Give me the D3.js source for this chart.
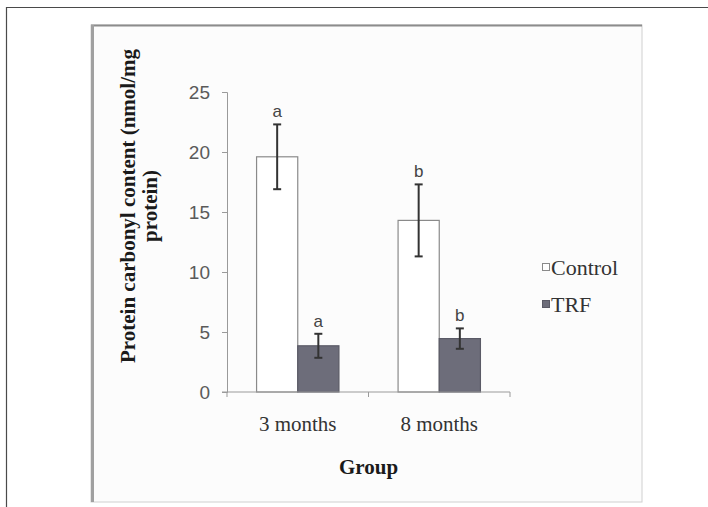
<!DOCTYPE html>
<html>
<head>
<meta charset="utf-8">
<script src="https://cdn.jsdelivr.net/npm/d3@7"></script>
<style>
  html, body { margin: 0; padding: 0; background: #fff; }
  svg { display: block; }
  .serif { font-family: "Liberation Serif", "Times New Roman", "DejaVu Serif", serif; }
  .sans { font-family: "Liberation Sans", Arial, sans-serif; }
</style>
</head>
<body>
<div id="chart"></div>
<script>
const groups = ["3 months", "8 months"];
const series = ["Control", "TRF"];
const controlMeans = [19.6, 14.3];
const controlErrors = [2.7, 3.0];
const trfMeans = [3.85, 4.45];
const trfErrors = [1.0, 0.85];
const controlLetters = ["a", "b"];
const trfLetters = ["a", "b"];
const yTicks = [0, 5, 10, 15, 20, 25];

const width = 708;
const height = 507;
const plot = { left: 227, right: 510, top: 92, bottom: 392 };

const rows = groups.flatMap((group, i) => [
  { group, series: "Control", mean: controlMeans[i], err: controlErrors[i], letter: controlLetters[i] },
  { group, series: "TRF", mean: trfMeans[i], err: trfErrors[i], letter: trfLetters[i] },
]);

const svg = d3.select("#chart").append("svg")
  .attr("width", width)
  .attr("height", height);

// outer frame (page border)
svg.append("line").attr("x1", 6).attr("x2", width).attr("y1", 7.5).attr("y2", 7.5)
  .attr("stroke", "#4a4a4a").attr("stroke-width", 1.2);
svg.append("line").attr("x1", 6.5).attr("x2", 6.5).attr("y1", 7).attr("y2", height)
  .attr("stroke", "#4a4a4a").attr("stroke-width", 1.2);

// chart panel
svg.append("rect").attr("x", 91).attr("y", 25).attr("width", 551).attr("height", 477)
  .attr("fill", "#fcfcfc").attr("stroke", "#d0d0d0").attr("stroke-width", 1);
svg.append("line").attr("x1", 91).attr("x2", 642).attr("y1", 25.5).attr("y2", 25.5)
  .attr("stroke", "#8c8c8c").attr("stroke-width", 2);
svg.append("line").attr("x1", 92.5).attr("x2", 92.5).attr("y1", 25).attr("y2", 502)
  .attr("stroke", "#a0a0a0").attr("stroke-width", 3);

const x0 = d3.scaleBand()
  .domain(groups)
  .range([plot.left, plot.right])
  .paddingInner(0.418)
  .paddingOuter(0.209);

const x1 = d3.scaleBand()
  .domain(series)
  .range([0, x0.bandwidth()]);

const y = d3.scaleLinear()
  .domain([0, 25])
  .range([plot.bottom, plot.top]);

const fills = { Control: "#ffffff", TRF: "#6d6d7a" };
const strokes = { Control: "#8a8a8a", TRF: "#5a5a66" };

// y axis
const yAxis = svg.append("g")
  .attr("transform", `translate(${plot.left},0)`)
  .call(d3.axisLeft(y).tickValues(yTicks).tickSize(5).tickPadding(12));
yAxis.attr("font-family", null).attr("font-size", null);
yAxis.select(".domain").attr("stroke", "#9a9a9a");
yAxis.selectAll(".tick line").attr("stroke", "#9a9a9a");
yAxis.selectAll(".tick text")
  .attr("class", "sans")
  .attr("fill", "#5a5a5a")
  .style("font-size", "19px");

// bars
svg.append("g").selectAll("rect")
  .data(rows)
  .join("rect")
  .attr("x", (d) => x0(d.group) + x1(d.series))
  .attr("y", (d) => y(d.mean))
  .attr("width", x1.bandwidth())
  .attr("height", (d) => y(0) - y(d.mean))
  .attr("fill", (d) => fills[d.series])
  .attr("stroke", (d) => strokes[d.series])
  .attr("stroke-width", 1.2);

// x axis (Excel style, ticks between categories)
const xAxis = svg.append("g").attr("transform", `translate(0,${plot.bottom})`);
xAxis.append("line")
  .attr("x1", plot.left - 5).attr("x2", plot.right)
  .attr("stroke", "#9a9a9a");
const step = x0.step();
const dividers = [plot.left, plot.left + step, plot.right];
xAxis.selectAll(".div-tick")
  .data(dividers)
  .join("line")
  .attr("class", "div-tick")
  .attr("x1", (d) => d).attr("x2", (d) => d)
  .attr("y1", 0).attr("y2", 5)
  .attr("stroke", "#9a9a9a");
xAxis.selectAll(".cat-label")
  .data(groups)
  .join("text")
  .attr("class", "serif")
  .attr("x", (d) => x0(d) + x0.bandwidth() / 2)
  .attr("y", 39)
  .attr("text-anchor", "middle")
  .attr("fill", "#333")
  .style("font-size", "21px")
  .text((d) => d);

// error bars
const errs = svg.append("g").attr("stroke", "#333").attr("stroke-width", 2);
rows.forEach((d) => {
  const cx = x0(d.group) + x1(d.series) + x1.bandwidth() / 2;
  errs.append("line").attr("x1", cx).attr("x2", cx)
    .attr("y1", y(d.mean + d.err)).attr("y2", y(d.mean - d.err));
  [d.mean + d.err, d.mean - d.err].forEach((v) => {
    errs.append("line").attr("x1", cx - 4).attr("x2", cx + 4)
      .attr("y1", y(v)).attr("y2", y(v));
  });
});

// significance letters
svg.append("g").selectAll("text")
  .data(rows)
  .join("text")
  .attr("class", "sans")
  .attr("x", (d) => x0(d.group) + x1(d.series) + x1.bandwidth() / 2)
  .attr("y", (d) => y(d.mean + d.err) - 7)
  .attr("text-anchor", "middle")
  .attr("fill", "#444")
  .style("font-size", "17px")
  .text((d) => d.letter);

// axis titles
const yTitle = svg.append("text")
  .attr("class", "serif")
  .attr("transform", "translate(135,206) rotate(-90)")
  .attr("text-anchor", "middle")
  .attr("fill", "#1a1a1a")
  .style("font-size", "21px")
  .style("font-weight", "bold");
yTitle.append("tspan").attr("x", 0).attr("dy", 0).text("Protein carbonyl content (nmol/mg");
yTitle.append("tspan").attr("x", 0).attr("dy", 22).text("protein)");

svg.append("text")
  .attr("class", "serif")
  .attr("x", (plot.left + plot.right) / 2)
  .attr("y", 474)
  .attr("text-anchor", "middle")
  .attr("fill", "#1a1a1a")
  .style("font-size", "21px")
  .style("font-weight", "bold")
  .text("Group");

// legend
const legend = svg.append("g").attr("transform", "translate(542,0)");
const legendY = [268, 305];
series.forEach((s, i) => {
  legend.append("rect")
    .attr("x", 0.5).attr("y", legendY[i] - 4.5)
    .attr("width", 7).attr("height", 7)
    .attr("fill", fills[s]).attr("stroke", strokes[s]);
  legend.append("text")
    .attr("class", "serif")
    .attr("x", 9).attr("y", legendY[i] + 7)
    .attr("fill", "#333")
    .style("font-size", "22px")
    .text(s);
});
</script>
</body>
</html>
